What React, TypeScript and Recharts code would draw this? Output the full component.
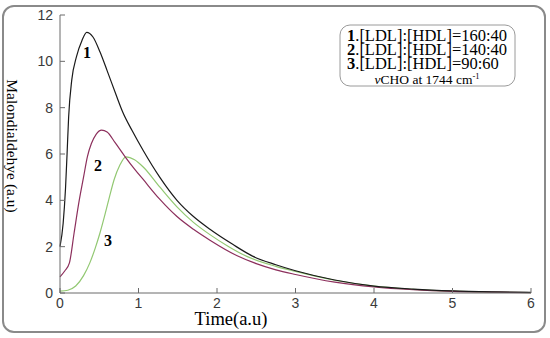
import React from "react";
import { LineChart, Line, XAxis, YAxis } from "recharts";

// Curve 1: [LDL]:[HDL]=160:40
const curve1T = [0, 0.04, 0.07, 0.09, 0.11, 0.15, 0.21, 0.28, 0.34, 0.42, 0.51, 0.6, 0.72, 0.8, 0.92, 1.06, 1.27, 1.49, 1.7, 1.91, 2.2, 2.46, 2.75, 3.0, 3.5, 4.0, 4.5, 5.0, 5.5, 6.0];
const curve1Y = [2.0, 3.0, 4.5, 6.0, 7.6, 9.2, 10.2, 10.9, 11.25, 11.05, 10.4, 9.6, 8.5, 7.8, 7.0, 6.15, 5.0, 4.0, 3.3, 2.75, 2.1, 1.58, 1.22, 0.96, 0.56, 0.3, 0.17, 0.09, 0.05, 0.03];

// Curve 2: [LDL]:[HDL]=140:40
const curve2T = [0, 0.06, 0.12, 0.18, 0.24, 0.3, 0.35, 0.4, 0.46, 0.53, 0.6, 0.7, 0.83, 0.95, 1.06, 1.27, 1.49, 1.7, 1.91, 2.25, 2.5, 2.75, 3.0, 3.5, 4.0, 4.5, 5.0, 5.5, 6.0];
const curve2Y = [0.7, 0.95, 1.3, 2.6, 3.9, 5.0, 5.9, 6.45, 6.85, 7.03, 6.95, 6.5, 5.88, 5.35, 4.9, 4.05, 3.3, 2.75, 2.28, 1.62, 1.27, 1.0, 0.8, 0.47, 0.26, 0.14, 0.07, 0.04, 0.02];

// Curve 3: [LDL]:[HDL]=90:60
const curve3T = [0, 0.1, 0.2, 0.3, 0.38, 0.45, 0.51, 0.57, 0.63, 0.69, 0.76, 0.84, 0.95, 1.06, 1.27, 1.49, 1.7, 1.91, 2.15, 2.38, 2.75, 3.0, 3.5, 4.0, 4.5, 5.0, 5.5, 6.0];
const curve3Y = [0.08, 0.12, 0.3, 0.75, 1.3, 1.95, 2.6, 3.35, 4.15, 4.9, 5.5, 5.88, 5.75, 5.44, 4.58, 3.72, 3.05, 2.52, 2.0, 1.58, 1.15, 0.93, 0.55, 0.3, 0.16, 0.08, 0.04, 0.02];

const xTicks = [0, 1, 2, 3, 4, 5, 6];
const yTicks = [0, 2, 4, 6, 8, 10, 12];

const legendLines = ["[LDL]:[HDL]=160:40", "[LDL]:[HDL]=140:40", "[LDL]:[HDL]=90:60"];

const build = (ts: number[], ys: number[]) => ts.map((t, i) => ({ t, y: ys[i] }));
const data1 = build(curve1T, curve1Y);
const data2 = build(curve2T, curve2Y);
const data3 = build(curve3T, curve3Y);

const AXIS = "#6b6b6b";
const TICK_FONT = "'Liberation Sans', Arial, sans-serif";
const SERIF = "'Liberation Serif', 'Times New Roman', serif";

const BottomTick = (p: any) => (
  <g>
    <line x1={p.x} x2={p.x} y1={p.y} y2={p.y - 5} stroke={AXIS} />
    <text x={p.x} y={p.y + 15} textAnchor="middle" fontSize={14} fill="#3a3a3a" fontFamily={TICK_FONT}>
      {p.payload.value}
    </text>
  </g>
);
const LeftTick = (p: any) => (
  <g>
    <line x1={p.x} x2={p.x + 5} y1={p.y} y2={p.y} stroke={AXIS} />
    <text x={p.x - 7} y={p.y + 5} textAnchor="end" fontSize={14} fill="#3a3a3a" fontFamily={TICK_FONT}>
      {p.payload.value}
    </text>
  </g>
);
const TopTick = (p: any) => <line x1={p.x} x2={p.x} y1={p.y} y2={p.y + 5} stroke={AXIS} />;
const RightTick = (p: any) => <line x1={p.x} x2={p.x - 5} y1={p.y} y2={p.y} stroke={AXIS} />;

export default function App() {
  return (
    <div style={{ position: "absolute", left: 0, top: 0, width: 550, height: 338, background: "#fff" }}>
      <LineChart width={550} height={338} margin={{ top: 15, right: 19, left: 0, bottom: 0 }}>
        <XAxis
          xAxisId={0}
          type="number"
          dataKey="t"
          domain={[0, 6]}
          ticks={xTicks}
          height={45}
          tickSize={0}
          tickMargin={0}
          tickLine={false}
          axisLine={{ stroke: AXIS }}
          tick={BottomTick}
          interval={0}
        />
        <XAxis
          xAxisId="top"
          orientation="top"
          type="number"
          dataKey="t"
          domain={[0, 6]}
          ticks={xTicks}
          height={0}
          tickSize={0}
          tickMargin={0}
          tickLine={false}
          axisLine={{ stroke: AXIS }}
          tick={TopTick}
          interval={0}
        />
        <YAxis
          yAxisId={0}
          type="number"
          domain={[0, 12]}
          ticks={yTicks}
          width={60}
          tickSize={0}
          tickMargin={0}
          tickLine={false}
          axisLine={{ stroke: AXIS }}
          tick={LeftTick}
          interval={0}
        />
        <YAxis
          yAxisId="right"
          orientation="right"
          type="number"
          domain={[0, 12]}
          ticks={yTicks}
          width={0}
          tickSize={0}
          tickMargin={0}
          tickLine={false}
          axisLine={{ stroke: AXIS }}
          tick={RightTick}
          interval={0}
        />
        <Line data={data3} dataKey="y" type="monotone" stroke="#92c872" strokeWidth={1.2} dot={false} isAnimationActive={false} />
        <Line data={data2} dataKey="y" type="monotone" stroke="#8c2f5c" strokeWidth={1.2} dot={false} isAnimationActive={false} />
        <Line data={data1} dataKey="y" type="monotone" stroke="#1a1a1a" strokeWidth={1.2} dot={false} isAnimationActive={false} />
      </LineChart>
      <svg width={550} height={338} style={{ position: "absolute", left: 0, top: 0, pointerEvents: "none" }}>
        <rect x={3} y={6} width={542} height={326} rx={11} fill="none" stroke="#8a8a8a" strokeWidth={2} />
        <rect x={340} y={25} width={175} height={61} rx={10} fill="#fff" stroke="#9a9a9a" strokeWidth={1} />
        <text x={347} y={40.5} fontSize={16.5} fontFamily={SERIF} fill="#000">
          {legendLines.map((s, i) => (
            <tspan key={i} x={347} dy={i === 0 ? 0 : 14.3}>
              <tspan fontWeight="bold">{i + 1}</tspan>.{s}
            </tspan>
          ))}
        </text>
        <text x={427} y={84} textAnchor="middle" fontSize={13.5} fontFamily={SERIF} fill="#000">
          <tspan fontStyle="italic">ν</tspan>CHO at 1744 cm
          <tspan fontSize={8.5} dy={-5}>-1</tspan>
        </text>
        <text x={87} y={58} textAnchor="middle" fontSize={16} fontWeight="bold" fontFamily={SERIF} fill="#000">1</text>
        <text x={98} y={171} textAnchor="middle" fontSize={16} fontWeight="bold" fontFamily={SERIF} fill="#000">2</text>
        <text x={108} y={246} textAnchor="middle" fontSize={16} fontWeight="bold" fontFamily={SERIF} fill="#000">3</text>
        <text
          x={7}
          y={146}
          transform="rotate(90 7 146)"
          textAnchor="middle"
          fontSize={15.5}
          fontFamily={SERIF}
          fill="#000"
        >
          Malondialdehye (a.u)
        </text>
        <text x={231} y={325} textAnchor="middle" fontSize={18.5} fontFamily={SERIF} fill="#000">
          Time(a.u)
        </text>
      </svg>
    </div>
  );
}
